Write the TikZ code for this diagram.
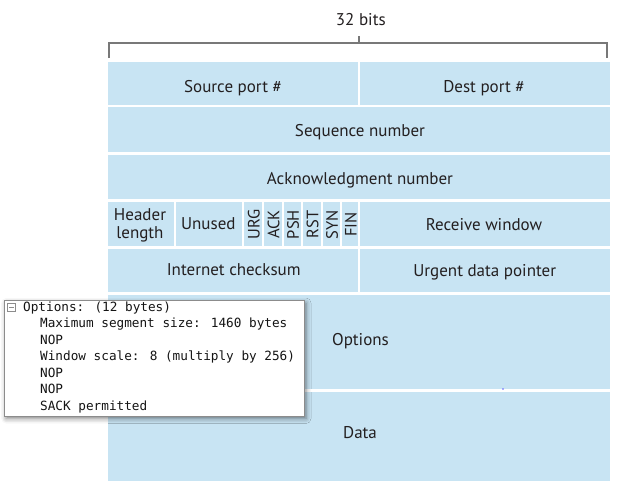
\documentclass[tikz,border=0pt]{standalone}
\usepackage{fontspec}
\setmainfont{PT Sans}
\newfontfamily\popfont{DejaVu Sans Mono}
\usetikzlibrary{shadows.blur}
\definecolor{cellblue}{RGB}{200,228,243}
\definecolor{txt}{RGB}{35,31,32}
\definecolor{brk}{RGB}{120,120,120}
\definecolor{popborder}{RGB}{140,140,140}
\definecolor{poptext}{RGB}{20,20,20}
\definecolor{dotblue}{RGB}{100,100,255}
\tikzset{
  cell/.style={rectangle, fill=cellblue, inner sep=0pt},
  lbl/.style={inner sep=0pt, text=txt, font=\fontsize{17}{18.3}\selectfont,
    text height=11.9pt, text depth=0pt},
  flagtxt/.style={lbl, rotate=90, font=\fontsize{16.5}{18}\selectfont, text height=11.5pt},
  twoline/.style={inner sep=0pt, text=txt, font=\fontsize{17}{18.3}\selectfont,
    align=center, anchor=base},
  poptxt/.style={anchor=base west, inner sep=0pt, text=poptext,
    font=\popfont\fontsize{12.7}{15}\selectfont},
  bracket/.style={draw=brk, line width=1.4pt},
  popbox/.style={rectangle, fill=white, draw=popborder, line width=0.8pt,
    inner sep=0pt,
    blur shadow={shadow xshift=1.5pt, shadow yshift=-2.5pt, shadow blur radius=5pt, shadow opacity=50}}
}
\begin{document}
\begin{tikzpicture}[x=1pt,y=-1pt]
\useasboundingbox (0,0) rectangle (617,491);

% title and bracket
\node[lbl] (bits) at (360.8,19.7) {32 bits};
\coordinate (bl) at (109,58);
\coordinate (br) at (607,58);
\coordinate (bc) at (359,43);
\coordinate (bt) at (359,36);
\draw[bracket] (bl) |- (bc) -| (br);
\draw[bracket] (bc) -- (bt);

% row 1
\node[cell, minimum width=250pt, minimum height=42.5pt] (src) at (233,83.25) {};
\node[cell, minimum width=250pt, minimum height=42.5pt] (dst) at (485,83.25) {};
% row 2
\node[cell, minimum width=502pt, minimum height=45pt] (seq) at (359,129.5) {};
% row 3
\node[cell, minimum width=502pt, minimum height=44pt] (ack) at (359,176.5) {};
% row 4
\node[cell, minimum width=66pt, minimum height=44pt] (hdr) at (141,223.5) {};
\node[cell, minimum width=66pt, minimum height=44pt] (unused) at (209,223.5) {};
\node[cell, minimum width=18pt, minimum height=44pt] (urg) at (253,223.5) {};
\node[cell, minimum width=17.5pt, minimum height=44pt] (ackf) at (272.75,223.5) {};
\node[cell, minimum width=17.5pt, minimum height=44pt] (psh) at (292.25,223.5) {};
\node[cell, minimum width=17.5pt, minimum height=44pt] (rst) at (311.75,223.5) {};
\node[cell, minimum width=17.5pt, minimum height=44pt] (syn) at (331.25,223.5) {};
\node[cell, minimum width=16pt, minimum height=44pt] (fin) at (350,223.5) {};
\node[cell, minimum width=250pt, minimum height=44pt] (rwnd) at (485,223.5) {};
% row 5
\node[cell, minimum width=250pt, minimum height=43pt] (chk) at (233,270.5) {};
\node[cell, minimum width=250pt, minimum height=43pt] (urgp) at (485,270.5) {};
% row 6
\node[cell, minimum width=502pt, minimum height=94pt] (opt) at (359,342) {};
% row 7
\node[cell, minimum width=502pt, minimum height=89pt] (data) at (359,436.5) {};

% labels
\node[lbl] (srcl) at (233,86.7) {Source port \#};
\node[lbl] (dstl) at (484,86.7) {Dest port \#};
\node[lbl] (seql) at (360,130.8) {Sequence number};
\node[lbl] (ackl) at (360,178.9) {Acknowledgment number};
\node[twoline] (hdrl) at (140,238.3) {Header\\length};
\node[lbl] (unusedl) at (208.3,223.4) {Unused};
\node[flagtxt] (urgt) at ([xshift=0.8pt,yshift=-1pt]urg.center) {URG};
\node[flagtxt] (ackt) at ([xshift=0.8pt,yshift=-1pt]ackf.center) {ACK};
\node[flagtxt] (psht) at ([xshift=0.8pt,yshift=-1pt]psh.center) {PSH};
\node[flagtxt] (rstt) at ([xshift=0.8pt,yshift=-1pt]rst.center) {RST};
\node[flagtxt] (synt) at ([xshift=0.8pt,yshift=-1pt]syn.center) {SYN};
\node[flagtxt] (fint) at ([xshift=0.8pt,yshift=-1pt]fin.center) {FIN};
\node[lbl] (rwndl) at (484,224.2) {Receive window};
\node[lbl] (chkl) at (233.7,269.2) {Internet checksum};
\node[lbl] (urgpl) at (484.7,270.5) {Urgent data pointer};
\node[lbl] (optl) at (360.5,339.5) {Options};
\node[lbl] (datal) at (360,432.9) {Data};

% stray dot
\fill[dotblue] (503,389) circle (0.9);

% options popup
\node[popbox, minimum width=299.8pt, minimum height=115.5pt] (pop) at (154.6,358.25) {};
\node[draw=popborder, line width=0.6pt, minimum size=7.5pt, inner sep=0pt] (collapse) at (11.5,307.5) {};
\draw[popborder, line width=0.6pt] ([xshift=1.8pt]collapse.west) -- ([xshift=-1.8pt]collapse.east);
\node[poptxt] (l1) at (23,311) {Options: (12 bytes)};
\node[poptxt] (l2) at (40,327.5) {Maximum segment size: 1460 bytes};
\node[poptxt] (l3) at (40,344) {NOP};
\node[poptxt] (l4) at (40,360.5) {Window scale: 8 (multiply by 256)};
\node[poptxt] (l5) at (40,377) {NOP};
\node[poptxt] (l6) at (40,393.5) {NOP};
\node[poptxt] (l7) at (40,410) {SACK permitted};
\end{tikzpicture}
\end{document}
